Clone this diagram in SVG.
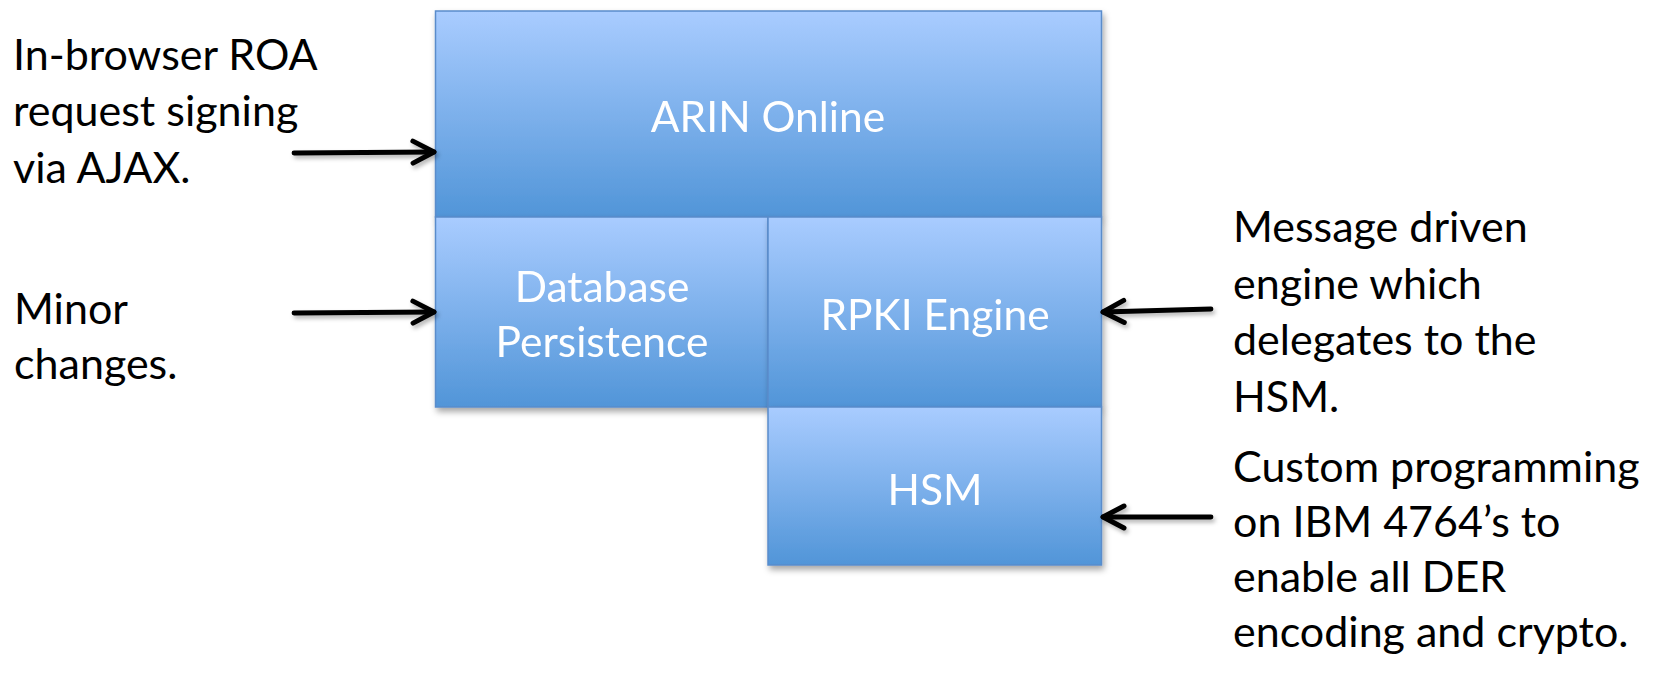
<svg xmlns="http://www.w3.org/2000/svg" width="1663" height="675" viewBox="0 0 1663 675">
  <defs>
    <linearGradient id="boxGrad" x1="0" y1="0" x2="0" y2="1">
      <stop offset="0" stop-color="#A9CCFF"/>
      <stop offset="1" stop-color="#5195D8"/>
    </linearGradient>
    <filter id="shadow" x="-10%" y="-10%" width="125%" height="130%">
      <feDropShadow dx="2" dy="4" stdDeviation="3" flood-color="#000" flood-opacity="0.35"/>
    </filter>
    <filter id="ashadow" x="-10%" y="-100%" width="125%" height="300%">
      <feDropShadow dx="2" dy="3" stdDeviation="2" flood-color="#000" flood-opacity="0.3"/>
    </filter>
    <marker id="arrow" markerUnits="userSpaceOnUse" markerWidth="40" markerHeight="40" refX="30" refY="20" orient="auto" viewBox="0 0 40 40">
      <path d="M9,9 L30,20 L9,31" fill="none" stroke="#000" stroke-width="5" stroke-linecap="round" stroke-linejoin="round"/>
    </marker>
    <style>
      .box { fill: url(#boxGrad); stroke: #5A8CCB; stroke-width: 1.5; }
      .lbl { font-family: Lato, "Open Sans", sans-serif; font-size: 42.5px; fill: #FFFFFF; text-anchor: middle; }
      .note { font-family: Lato, "Open Sans", sans-serif; font-size: 43px; fill: #000000; }
      .conn { stroke: #000; stroke-width: 4.8; fill: none; stroke-linecap: round; marker-end: url(#arrow); }
    </style>
  </defs>
  <rect width="1663" height="675" fill="#FFFFFF"/>

  <g id="arin-online" filter="url(#shadow)">
    <rect class="box" x="435.5" y="11" width="666" height="206"/>
    <text class="lbl" x="768" y="132">ARIN Online</text>
  </g>
  <g id="database-persistence" filter="url(#shadow)">
    <rect class="box" x="435.5" y="217" width="332.5" height="190"/>
    <text class="lbl" x="602" y="302">Database</text>
    <text class="lbl" x="602" y="357">Persistence</text>
  </g>
  <g id="rpki-engine" filter="url(#shadow)">
    <rect class="box" x="768" y="217" width="333.5" height="190"/>
    <text class="lbl" x="935" y="330">RPKI Engine</text>
  </g>
  <g id="hsm" filter="url(#shadow)">
    <rect class="box" x="768" y="407" width="333.5" height="158"/>
    <text class="lbl" x="935" y="505">HSM</text>
  </g>

  <g id="connectors" filter="url(#ashadow)">
    <line class="conn" x1="294" y1="153" x2="434" y2="152"/>
    <line class="conn" x1="294" y1="313" x2="434" y2="312"/>
    <line class="conn" x1="1211" y1="309" x2="1103" y2="312"/>
    <line class="conn" x1="1211" y1="517" x2="1103" y2="517"/>
  </g>

  <g id="note-roa">
    <text class="note" x="13" y="70">In-browser ROA</text>
    <text class="note" x="13" y="126">request signing</text>
    <text class="note" x="13" y="183">via AJAX.</text>
  </g>
  <g id="note-minor">
    <text class="note" x="14" y="324">Minor</text>
    <text class="note" x="14" y="379">changes.</text>
  </g>
  <g id="note-engine">
    <text class="note" x="1233" y="242">Message driven</text>
    <text class="note" x="1233" y="299">engine which</text>
    <text class="note" x="1233" y="355">delegates to the</text>
    <text class="note" x="1233" y="412">HSM.</text>
  </g>
  <g id="note-hsm">
    <text class="note" x="1233" y="482">Custom programming</text>
    <text class="note" x="1233" y="537">on IBM 4764’s to</text>
    <text class="note" x="1233" y="592">enable all DER</text>
    <text class="note" x="1233" y="647">encoding and crypto.</text>
  </g>
</svg>
